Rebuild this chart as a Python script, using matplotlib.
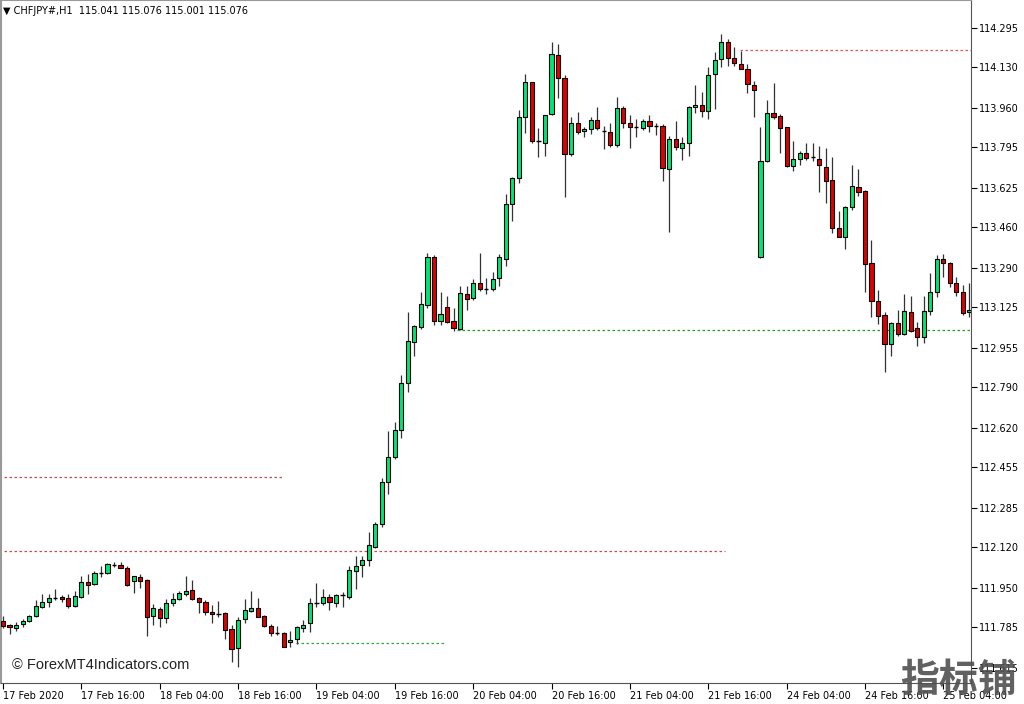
import matplotlib
matplotlib.use("Agg")
import matplotlib.pyplot as plt
import numpy as np

# ---------------- data (CHFJPY H1) ----------------
opens = [111.812, 111.794, 111.781, 111.798, 111.812, 111.832, 111.871, 111.892, 111.907, 111.911,
         111.907, 111.876, 111.914, 111.974, 111.966, 112.013, 112.013, 112.047, 112.047, 112.033,
         111.981, 111.995, 111.984, 111.833, 111.861, 111.823, 111.886, 111.904, 111.925, 111.942,
         111.907, 111.893, 111.850, 111.843, 111.847, 111.777, 111.698, 111.819, 111.855, 111.868,
         111.833, 111.792, 111.763, 111.763, 111.723, 111.737, 111.781, 111.802, 111.889, 111.886,
         111.911, 111.889, 111.921, 111.914, 112.023, 112.047, 112.065, 112.123, 112.217, 112.392,
         112.500, 112.612, 112.807, 112.982, 113.042, 113.135, 113.334, 113.069, 113.125, 113.069,
         113.034, 113.180, 113.163, 113.228, 113.201, 113.201, 113.247, 113.326, 113.557, 113.666,
         113.920, 114.070, 113.823, 113.812, 113.934, 114.182, 114.087, 113.767, 113.896, 113.864,
         113.871, 113.910, 113.864, 113.861, 113.804, 113.959, 113.896, 113.882, 113.877, 113.905,
         113.884, 113.884, 113.703, 113.829, 113.791, 113.814, 113.963, 113.972, 113.949, 114.101,
         114.164, 114.237, 114.168, 114.144, 114.122, 114.056, 113.337, 113.738, 113.940, 113.926,
         113.879, 113.717, 113.745, 113.770, 113.753, 113.746, 113.714, 113.658, 113.456, 113.421,
         113.544, 113.628, 113.614, 113.310, 113.152, 113.093, 112.970, 113.061, 113.012, 113.106,
         113.040, 113.002, 113.111, 113.188, 113.326, 113.310, 113.228, 113.191, 113.104]
highs = [111.834, 111.798, 111.807, 111.820, 111.837, 111.900, 111.925, 111.925, 111.945, 111.921,
         111.924, 111.939, 112.001, 112.008, 112.023, 112.044, 112.054, 112.060, 112.060, 112.044,
         112.002, 112.008, 111.987, 111.882, 111.872, 111.903, 111.928, 111.939, 112.002, 111.984,
         111.911, 111.899, 111.879, 111.897, 111.851, 111.795, 111.830, 111.903, 111.938, 111.907,
         111.837, 111.800, 111.792, 111.767, 111.771, 111.791, 111.816, 111.907, 111.970, 111.945,
         111.925, 111.925, 111.931, 112.040, 112.084, 112.084, 112.186, 112.227, 112.409, 112.608,
         112.643, 112.842, 113.107, 113.051, 113.191, 113.351, 113.344, 113.188, 113.174, 113.124,
         113.216, 113.216, 113.242, 113.351, 113.249, 113.272, 113.347, 113.600, 113.672, 113.952,
         114.101, 114.070, 113.877, 113.931, 114.237, 114.228, 114.098, 113.921, 113.944, 113.882,
         113.921, 113.963, 113.886, 113.898, 114.005, 113.968, 113.931, 113.912, 113.912, 113.931,
         113.898, 113.893, 113.843, 113.907, 113.837, 113.968, 114.056, 114.028, 114.130, 114.196,
         114.270, 114.247, 114.214, 114.200, 114.143, 114.074, 113.882, 113.994, 114.066, 113.935,
         113.882, 113.822, 113.781, 113.812, 113.812, 113.801, 113.791, 113.753, 113.530, 113.550,
         113.721, 113.704, 113.617, 113.407, 113.198, 113.104, 113.065, 113.114, 113.181, 113.173,
         113.065, 113.174, 113.270, 113.343, 113.348, 113.316, 113.253, 113.219, 113.228]
lows = [111.781, 111.756, 111.770, 111.788, 111.807, 111.829, 111.868, 111.871, 111.900, 111.893,
        111.868, 111.869, 111.910, 111.924, 111.963, 111.996, 112.010, 112.039, 112.033, 111.960,
        111.928, 111.949, 111.749, 111.795, 111.788, 111.802, 111.876, 111.900, 111.917, 111.900,
        111.847, 111.837, 111.802, 111.830, 111.735, 111.640, 111.618, 111.802, 111.851, 111.828,
        111.788, 111.749, 111.753, 111.702, 111.702, 111.716, 111.767, 111.767, 111.872, 111.879,
        111.858, 111.872, 111.872, 111.903, 111.947, 111.995, 112.043, 112.116, 112.206, 112.343,
        112.489, 112.577, 112.772, 112.923, 113.034, 113.124, 113.051, 113.051, 113.058, 113.027,
        113.031, 113.114, 113.156, 113.193, 113.180, 113.195, 113.214, 113.298, 113.488, 113.647,
        113.854, 113.815, 113.753, 113.760, 113.931, 114.000, 113.588, 113.759, 113.851, 113.837,
        113.851, 113.868, 113.788, 113.795, 113.798, 113.875, 113.791, 113.840, 113.868, 113.861,
        113.847, 113.655, 113.439, 113.784, 113.742, 113.760, 113.938, 113.921, 113.912, 113.954,
        114.130, 114.136, 114.136, 114.122, 114.021, 113.921, 113.333, 113.735, 113.912, 113.770,
        113.712, 113.697, 113.721, 113.742, 113.739, 113.609, 113.561, 113.438, 113.418, 113.369,
        113.533, 113.591, 113.191, 113.086, 113.055, 112.855, 112.921, 113.006, 113.009, 113.021,
        112.963, 112.975, 113.093, 113.170, 113.251, 113.209, 113.173, 113.093, 113.086]
closes = [111.792, 111.787, 111.795, 111.812, 111.834, 111.874, 111.892, 111.908, 111.907, 111.903,
          111.876, 111.917, 111.977, 111.963, 112.012, 112.013, 112.050, 112.047, 112.035, 111.963,
          111.998, 111.980, 111.830, 111.865, 111.823, 111.889, 111.903, 111.928, 111.939, 111.904,
          111.890, 111.848, 111.843, 111.843, 111.774, 111.696, 111.816, 111.858, 111.868, 111.830,
          111.792, 111.761, 111.763, 111.702, 111.732, 111.786, 111.795, 111.889, 111.889, 111.911,
          111.892, 111.921, 111.921, 112.026, 112.043, 112.068, 112.130, 112.216, 112.395, 112.500,
          112.612, 112.807, 112.986, 113.047, 113.139, 113.334, 113.069, 113.097, 113.065, 113.040,
          113.184, 113.161, 113.228, 113.201, 113.201, 113.244, 113.337, 113.557, 113.666, 113.920,
          114.070, 113.823, 113.823, 113.931, 114.185, 114.087, 113.767, 113.898, 113.861, 113.872,
          113.910, 113.877, 113.864, 113.805, 113.959, 113.896, 113.882, 113.882, 113.905, 113.884,
          113.884, 113.707, 113.829, 113.795, 113.814, 113.963, 113.972, 113.949, 114.098, 114.161,
          114.237, 114.170, 114.147, 114.123, 114.059, 114.035, 113.738, 113.940, 113.923, 113.875,
          113.717, 113.745, 113.770, 113.752, 113.753, 113.720, 113.655, 113.456, 113.421, 113.544,
          113.633, 113.609, 113.307, 113.152, 113.090, 112.972, 113.058, 113.012, 113.110, 113.026,
          113.002, 113.111, 113.191, 113.326, 113.310, 113.228, 113.191, 113.100, 113.114]

# horizontal support / resistance levels: price, start bar, end bar, colour
level_prices = [114.201, 113.030, 112.415, 112.105, 111.718]
level_start = [112.8, 69.5, -1.0, -1.0, 44.9]
level_end = [149.0, 149.0, 42.9, 110.6, 67.8]
level_colors = ["#e05555", "#22a022", "#c05050", "#c05050", "#33aa33"]

price_ticks = [114.295, 114.130, 113.960, 113.795, 113.625, 113.460, 113.290, 113.125,
               112.955, 112.790, 112.620, 112.455, 112.285, 112.120, 111.950, 111.785, 111.615]
time_tick_bars = [0, 12, 24, 36, 48, 60, 72, 84, 96, 108, 120, 132, 144]
time_tick_labels = ["17 Feb 2020", "17 Feb 16:00", "18 Feb 04:00", "18 Feb 16:00",
                    "19 Feb 04:00", "19 Feb 16:00", "20 Feb 04:00", "20 Feb 16:00",
                    "21 Feb 04:00", "21 Feb 16:00", "24 Feb 04:00", "24 Feb 16:00",
                    "25 Feb 04:00"]

header = "\u25BC CHFJPY#,H1  115.041 115.076 115.001 115.076"

# ---------------- drawing ----------------
W, H = 1024, 704
fig = plt.figure(figsize=(W / 100, H / 100), dpi=100)
fig.patch.set_facecolor("white")
ax = fig.add_axes([1 / W, 1 - 683 / H, 970 / W, 683 / H])
ax.set_facecolor("white")

n = len(opens)
x = np.arange(n)
o = np.array(opens); h = np.array(highs); l = np.array(lows); c = np.array(closes)

bull_col = "#00e676"
bear_col = "#e00000"
body_w = 0.64

ax.vlines(x, l, h, color="#333333", linewidth=0.9, zorder=2)
for i in range(n):
    if abs(c[i] - o[i]) < 0.0015:
        ax.hlines(o[i], i - body_w / 2, i + body_w / 2, color="black", linewidth=1.0, zorder=3)
    else:
        col = bull_col if c[i] > o[i] else bear_col
        lo_ = min(o[i], c[i])
        ax.bar(i, abs(c[i] - o[i]), bottom=lo_, width=body_w, color=col,
               edgecolor="black", linewidth=0.8, zorder=3)

for p, s, e, col in zip(level_prices, level_start, level_end, level_colors):
    ax.hlines(p, s, e, colors=col, linestyles=(0, (2, 2)), linewidth=0.9, zorder=1)

ax.set_xlim((1 - 3) / 6.53, (971 - 3) / 6.53)
ax.set_ylim(111.552, 114.412)

ax.yaxis.tick_right()
ax.set_yticks(price_ticks)
ax.set_yticklabels([f"{v:.3f}" for v in price_ticks])
ax.tick_params(axis="y", direction="out", length=4, width=0.8, labelsize=7,
               pad=2, colors="black")
ax.set_xticks(time_tick_bars)
ax.set_xticklabels(time_tick_labels)
for lab in ax.get_xticklabels():
    lab.set_horizontalalignment("left")
ax.tick_params(axis="x", direction="out", length=4, width=0.8, labelsize=7, pad=2)

for side in ["top", "left"]:
    ax.spines[side].set_color("#999999")
ax.spines["left"].set_linewidth(1.5)
ax.spines["top"].set_linewidth(0.8)
ax.spines["right"].set_color("#555555")
ax.spines["bottom"].set_color("#555555")

fig.text(3 / W, 1 - 11 / H, header, fontsize=7, va="center", ha="left", color="black")
fig.text(12 / W, 1 - 665 / H, "\u00A9 ForexMT4Indicators.com", fontsize=10.5,
         family="Liberation Sans", va="center", ha="left", color="#222222")
fig.text(958 / W, 1 - 680 / H, "指标铺", fontsize=28, fontweight="bold",
         family=["Noto Sans CJK SC", "DejaVu Sans"], va="center", ha="center",
         color="#505050", alpha=0.9)

fig.savefig("out.png", dpi=100, facecolor="white")
